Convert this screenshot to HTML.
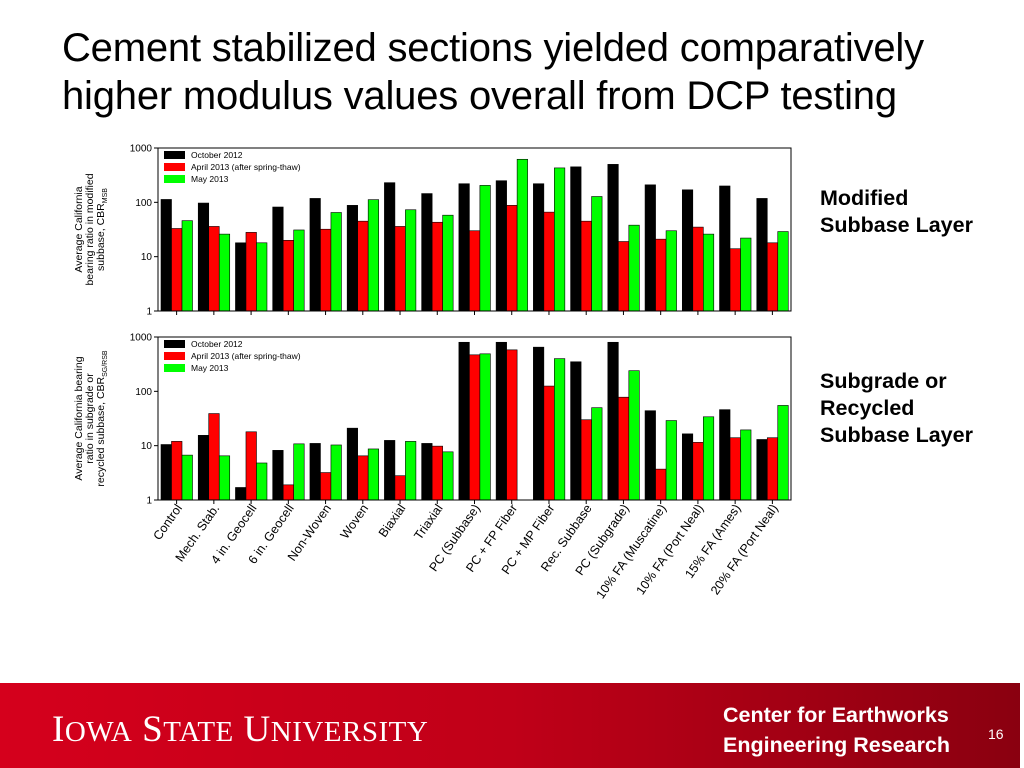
<!DOCTYPE html>
<html><head><meta charset="utf-8"><style>
body{margin:0;width:1024px;height:768px;overflow:hidden;background:#fff;font-family:"Liberation Sans",sans-serif;position:relative}
#title{position:absolute;left:62px;top:24px;font-size:40px;line-height:48px;color:#000;letter-spacing:-0.2px}
.side{position:absolute;left:820px;font-size:21.5px;font-weight:bold;line-height:27px}
#footer{position:absolute;left:0;top:683px;width:1020px;height:85px;background:linear-gradient(90deg,#d5001c 0%,#c00018 50%,#8a0010 100%)}
</style></head><body>
<div id="title">Cement stabilized sections yielded comparatively<br>higher modulus values overall from DCP testing</div>
<div class="side" style="top:185px">Modified<br>Subbase Layer</div>
<div class="side" style="top:368px">Subgrade or<br>Recycled<br>Subbase Layer</div>
<svg id="chart" width="1024" height="683" style="position:absolute;left:0;top:0"></svg>
<div id="footer">
<div style="position:absolute;left:52px;top:25px;color:#fff;font-family:'Liberation Serif',serif;font-size:37px;letter-spacing:0.5px">I<span style="font-size:29px">OWA</span> S<span style="font-size:29px">TATE</span> U<span style="font-size:29px">NIVERSITY</span></div>
<div style="position:absolute;left:723px;top:17px;color:#fff;font-size:21.5px;font-weight:bold;line-height:30px">Center for Earthworks<br>Engineering Research</div>
<div style="position:absolute;left:988px;top:43px;color:#fff;font-size:14px">16</div>
</div>
<script>
const categories=["Control","Mech. Stab.","4 in. Geocell","6 in. Geocell","Non-Woven","Woven","Biaxial","Triaxial","PC (Subbase)","PC + FP Fiber","PC + MP Fiber","Rec. Subbase","PC (Subgrade)","10% FA (Muscatine)","10% FA (Port Neal)","15% FA (Ames)","20% FA (Port Neal)"];
const seriesNames=["October 2012","April 2013 (after spring-thaw)","May 2013"];
const topOct=[113,97,18,82,118,88,230,145,220,250,220,450,500,210,170,200,118];
const topApr=[33,36,28,20,32,45,36,43,30,88,66,45,19,21,35,14,18];
const topMay=[46,26,18,31,65,112,73,58,205,620,430,128,38,30,26,22,29];
const botOct=[10.5,15.5,1.7,8.2,11,21,12.5,11,800,800,650,350,800,44,16.5,46,13];
const botApr=[12,39,18,1.9,3.2,6.5,2.8,9.8,470,580,125,30,78,3.7,11.5,14,14];
const botMay=[6.7,6.5,4.8,10.8,10.3,8.7,12,7.7,490,null,400,50,240,29,34,19.5,55];
const yTicks=[1,10,100,1000];
const colors=["#000","#f00","#0f0"];
const svg=document.getElementById('chart');const NS="http://www.w3.org/2000/svg";
function mk(t,a,p){const e=document.createElementNS(NS,t);for(const k in a)e.setAttribute(k,a[k]);(p||svg).appendChild(e);return e;}
const X0=158,X1=791,gw=(X1-X0)/categories.length,bw=10.5;
function drawPanel(top,series,name,ylab){
  const Y0=top,Y1=top+163;
  const g=mk('g',{});
  
  
  const y=v=>Y1-(Math.log10(v))/3*(Y1-Y0);
  series.forEach((arr,s)=>arr.forEach((v,i)=>{if(v==null)return;
    const r=mk('rect',{x:X0+i*gw+3+s*bw,y:y(v),width:bw,height:Y1-y(v),fill:colors[s],stroke:'#000','stroke-width':0.6},g);
    
    }));
  mk('rect',{x:X0,y:Y0,width:X1-X0,height:Y1-Y0,fill:'none',stroke:'#000','stroke-width':1},g);
  yTicks.forEach(t=>{const yy=y(t);mk('line',{x1:X0-4,x2:X0,y1:yy,y2:yy,stroke:'#000'},g);
    const tx=mk('text',{x:X0-6,y:yy+3.5,'text-anchor':'end','font-size':10,'font-family':'Liberation Sans'},g);tx.textContent=t;});
  categories.forEach((c,i)=>{const xx=X0+(i+0.5)*gw;mk('line',{x1:xx,x2:xx,y1:Y1,y2:Y1+4,stroke:'#000'},g);});
  seriesNames.forEach((n,s)=>{mk('rect',{x:164,y:Y0+3+s*12,width:21,height:8,fill:colors[s]},g);
    const t=mk('text',{x:191,y:Y0+10+s*12,'font-size':8.5,'font-family':'Liberation Sans'},g);t.textContent=n;
    });
  const cy=(Y0+Y1)/2;
  ylab.forEach((l,k)=>{const t=mk('text',{x:0,y:0,'text-anchor':'middle','font-size':10.5,'font-family':'Liberation Sans',transform:`translate(${82+k*11},${cy}) rotate(-90)`},g);t.innerHTML=l;
    });
}
drawPanel(148,[topOct,topApr,topMay],'top-panel',["Average California","bearing ratio in modified","subbase, CBR<tspan font-size='7' dy='3'>MSB</tspan>"]);
drawPanel(337,[botOct,botApr,botMay],'bottom-panel',["Average California bearing","ratio in subgrade or","recycled subbase, CBR<tspan font-size='7' dy='3'>SG/RSB</tspan>"]);
categories.forEach((c,i)=>{const xx=X0+(i+0.5)*gw+6;const t=mk('text',{x:0,y:0,'text-anchor':'end','font-size':12.5,'font-family':'Liberation Sans',transform:`translate(${xx},${508}) rotate(-55)`});t.textContent=c;
  });
</script>
</body></html>
